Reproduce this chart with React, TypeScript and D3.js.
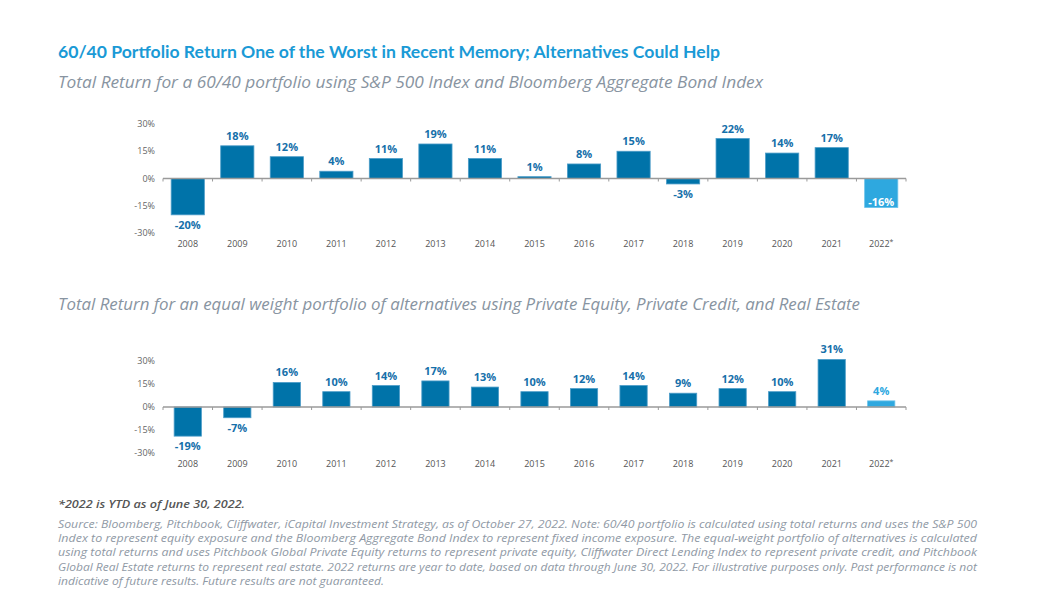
import React from "react";
import * as d3 from "d3";

const years = ["2008","2009","2010","2011","2012","2013","2014","2015","2016","2017","2018","2019","2020","2021","2022"];
const returns6040 = [-20, 18, 12, 4, 11, 19, 11, 1, 8, 15, -3, 22, 14, 17, -16];
const returnsAlts = [-19, -7, 16, 10, 14, 17, 13, 10, 12, 14, 9, 12, 10, 31, 4];
const yTicks = [30, 15, 0, -15, -30];
const highlightYear = "2022";

const title = "60/40 Portfolio Return One of the Worst in Recent Memory; Alternatives Could Help";
const subtitle1 = "Total Return for a 60/40 portfolio using S&P 500 Index and Bloomberg Aggregate Bond Index";
const subtitle2 = "Total Return for an equal weight portfolio of alternatives using Private Equity, Private Credit, and Real Estate";
const footnote = "*2022 is YTD as of June 30, 2022.";
const sourceLines = [
  "Source: Bloomberg, Pitchbook, Cliffwater, iCapital Investment Strategy, as of October 27, 2022. Note: 60/40 portfolio is calculated using total returns and uses the S&P 500",
  "Index to represent equity exposure and the Bloomberg Aggregate Bond Index to represent fixed income exposure. The equal-weight portfolio of alternatives is calculated",
  "using total returns and uses Pitchbook Global Private Equity returns to represent private equity, Cliffwater Direct Lending Index to represent private credit, and Pitchbook",
  "Global Real Estate returns to represent real estate. 2022 returns are year to date, based on data through June 30, 2022. For illustrative purposes only. Past performance is not",
  "indicative of future results. Future results are not guaranteed.",
];

const DARK = "#0073A9";
const LIGHT = "#2EA8DF";
const FONT = "Lato, 'Open Sans', sans-serif";
const TXTFONT = "'Open Sans', Lato, sans-serif";
const AXFONT = "'Open Sans', Lato, sans-serif";

type ChartProps = { values: number[]; top: number; bottom: number; padding: number };

function BarChart({ values, top, bottom, padding }: ChartProps) {
  const x = d3.scaleBand<string>().domain(years).range([163, 906]).paddingInner(padding).paddingOuter(padding / 2);
  const y = d3.scaleLinear().domain([-30, 30]).range([bottom, top]);
  const step = x.step();
  const x0 = 163;
  const boundaries = d3.range(years.length + 1).map((i) => x0 + i * step);
  return (
    <g>
      {yTicks.map((t) => (
        <text key={t} x={155} y={y(t) + 3.2} textAnchor="end" fontSize={9} fill="#666" fontFamily={AXFONT}>
          {t}%
        </text>
      ))}
      {years.map((yr, i) => {
        const v = values[i];
        const hl = yr === highlightYear;
        const bx = x(yr)!;
        const bw = x.bandwidth();
        const y0 = y(0);
        const yv = y(v);
        const rectY = Math.min(y0, yv);
        const rectH = Math.abs(yv - y0);
        let ly: number;
        let lfill = hl ? LIGHT : "#1670AA";
        if (v >= 0) ly = yv - 6;
        else if (hl) {
          ly = yv - 2;
          lfill = "#fff";
        } else ly = yv + 14;
        return (
          <g key={yr}>
            <rect x={bx} y={rectY} width={bw} height={rectH} fill={hl ? LIGHT : DARK} stroke={hl ? "#6cc3ea" : "#4c9cc8"} strokeWidth={0.8} />
            <text x={bx + bw / 2} y={ly} textAnchor="middle" fontSize={11} fontWeight={700} fill={lfill} fontFamily={AXFONT}>
              {v}%
            </text>
          </g>
        );
      })}
      <line x1={x0} x2={x0 + step * years.length} y1={y(0)} y2={y(0)} stroke="#9a9a9a" strokeWidth={1.3} />
      {boundaries.map((b, i) => (
        <line key={i} x1={b} x2={b} y1={y(0)} y2={y(0) + 3} stroke="#9a9a9a" strokeWidth={1} />
      ))}
      {years.map((yr) => {
        const cx = x0 + years.indexOf(yr) * step + step / 2;
        return (
          <text key={yr} x={cx} y={bottom + 13.5} textAnchor="middle" fontSize={9} fill="#555" fontFamily={AXFONT}>
            {yr}
            {yr === highlightYear ? <tspan fontSize={7} dy={-3}>*</tspan> : null}
          </text>
        );
      })}
    </g>
  );
}

export default function App() {
  return (
    <svg width={1039} height={611} style={{ position: "absolute", left: 0, top: 0, background: "#fff" }}>
      <text x={58} y={58} fontSize={17.6} fontWeight={700} fill="#1A9AD6" fontFamily={FONT} textLength={662} lengthAdjust="spacingAndGlyphs">
        {title}
      </text>
      <text x={58} y={87.5} fontSize={16.5} fontStyle="italic" fill="#8894a1" fontFamily={TXTFONT} textLength={705} lengthAdjust="spacingAndGlyphs">
        {subtitle1}
      </text>
      <BarChart values={returns6040} top={124} bottom={233} padding={0.33} />
      <text x={58} y={310} fontSize={16.5} fontStyle="italic" fill="#8894a1" fontFamily={TXTFONT} textLength={802} lengthAdjust="spacingAndGlyphs">
        {subtitle2}
      </text>
      <BarChart values={returnsAlts} top={361} bottom={453} padding={0.45} />
      <text x={58} y={508} fontSize={11.5} fontStyle="italic" fontWeight={600} fill="#555" fontFamily={TXTFONT} textLength={187} lengthAdjust="spacingAndGlyphs">
        {footnote}
      </text>
      {sourceLines.map((l, i) => (
        <text
          key={i}
          x={58}
          y={527.5 + i * 14.4}
          fontSize={11.5}
          fontStyle="italic"
          fill="#8f99a5"
          fontFamily={TXTFONT}
          textLength={i < sourceLines.length - 1 ? 919 : 326}
          lengthAdjust="spacingAndGlyphs"
        >
          {l}
        </text>
      ))}
    </svg>
  );
}
